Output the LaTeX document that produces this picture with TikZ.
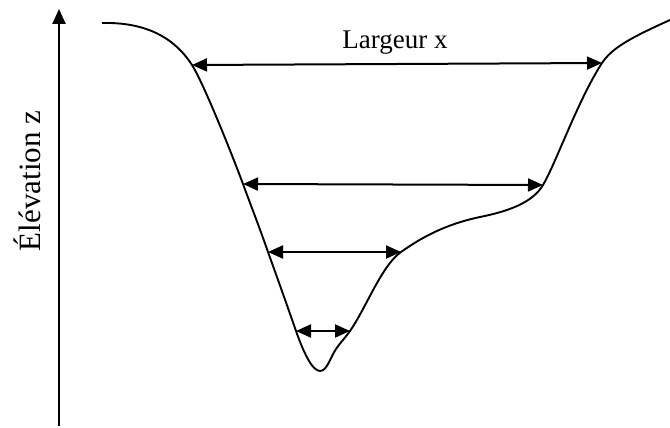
\documentclass[tikz,border=0pt]{standalone}
\usepackage{fontspec}
\setmainfont{Liberation Serif}
\usetikzlibrary{arrows.meta}

\begin{document}
\begin{tikzpicture}[x=1pt, y=-1pt, every node/.style={font=\fontsize{27}{31}\selectfont},
	>={Triangle[length=15pt, width=13pt]}, largeur/.style={<->, line width=2pt},
	profil/.style={line width=1.9pt, line join=round}]
	\useasboundingbox (0,0) rectangle (670,428);
	% axe vertical
	\coordinate (z0) at (59,426);
	\coordinate (z1) at (59,9);
	\draw[->, line width=2.4pt] (z0) -- (z1);
	\node[rotate=90, font=\fontsize{31}{35}\selectfont] (elev) at (27,181) {Élévation z};
	% points du profil
	\coordinate (l1) at (192,65);   \coordinate (r1) at (602,63);
	\coordinate (l2) at (243,184);  \coordinate (r2) at (543,185);
	\coordinate (l3) at (268,252);  \coordinate (r3) at (401,252);
	\coordinate (l4) at (296,331);  \coordinate (r4) at (350,331);
	\coordinate (fond) at (320,371);
	\draw[profil] (102,23) .. controls (145,22) and (174,37) .. (l1)
		.. controls (204,84) and (233,157) .. (l2)
		.. controls (251,206) and (259,226) .. (l3)
		.. controls (277,277) and (287,305) .. (l4)
		.. controls (303,351) and (312,371) .. (fond)
		.. controls (327,371) and (330,358) .. (336,349)
		.. controls (340,343) and (345,338) .. (r4)
		.. controls (366,308) and (382,265) .. (r3)
		.. controls (418,240) and (442,225) .. (480,217)
		.. controls (510,211) and (533,202) .. (r2)
		.. controls (556,163) and (578,100) .. (r1)
		.. controls (612,48) and (630,38) .. (670,20);
	% largeurs
	\draw[largeur] (l1) -- (r1);
	\draw[largeur] (l2) -- (r2);
	\draw[largeur] (l3) -- (r3);
	\draw[largeur] (l4) -- (r4);
	\node[anchor=base] (larg) at (395,49) {Largeur x};
\end{tikzpicture}
\end{document}
